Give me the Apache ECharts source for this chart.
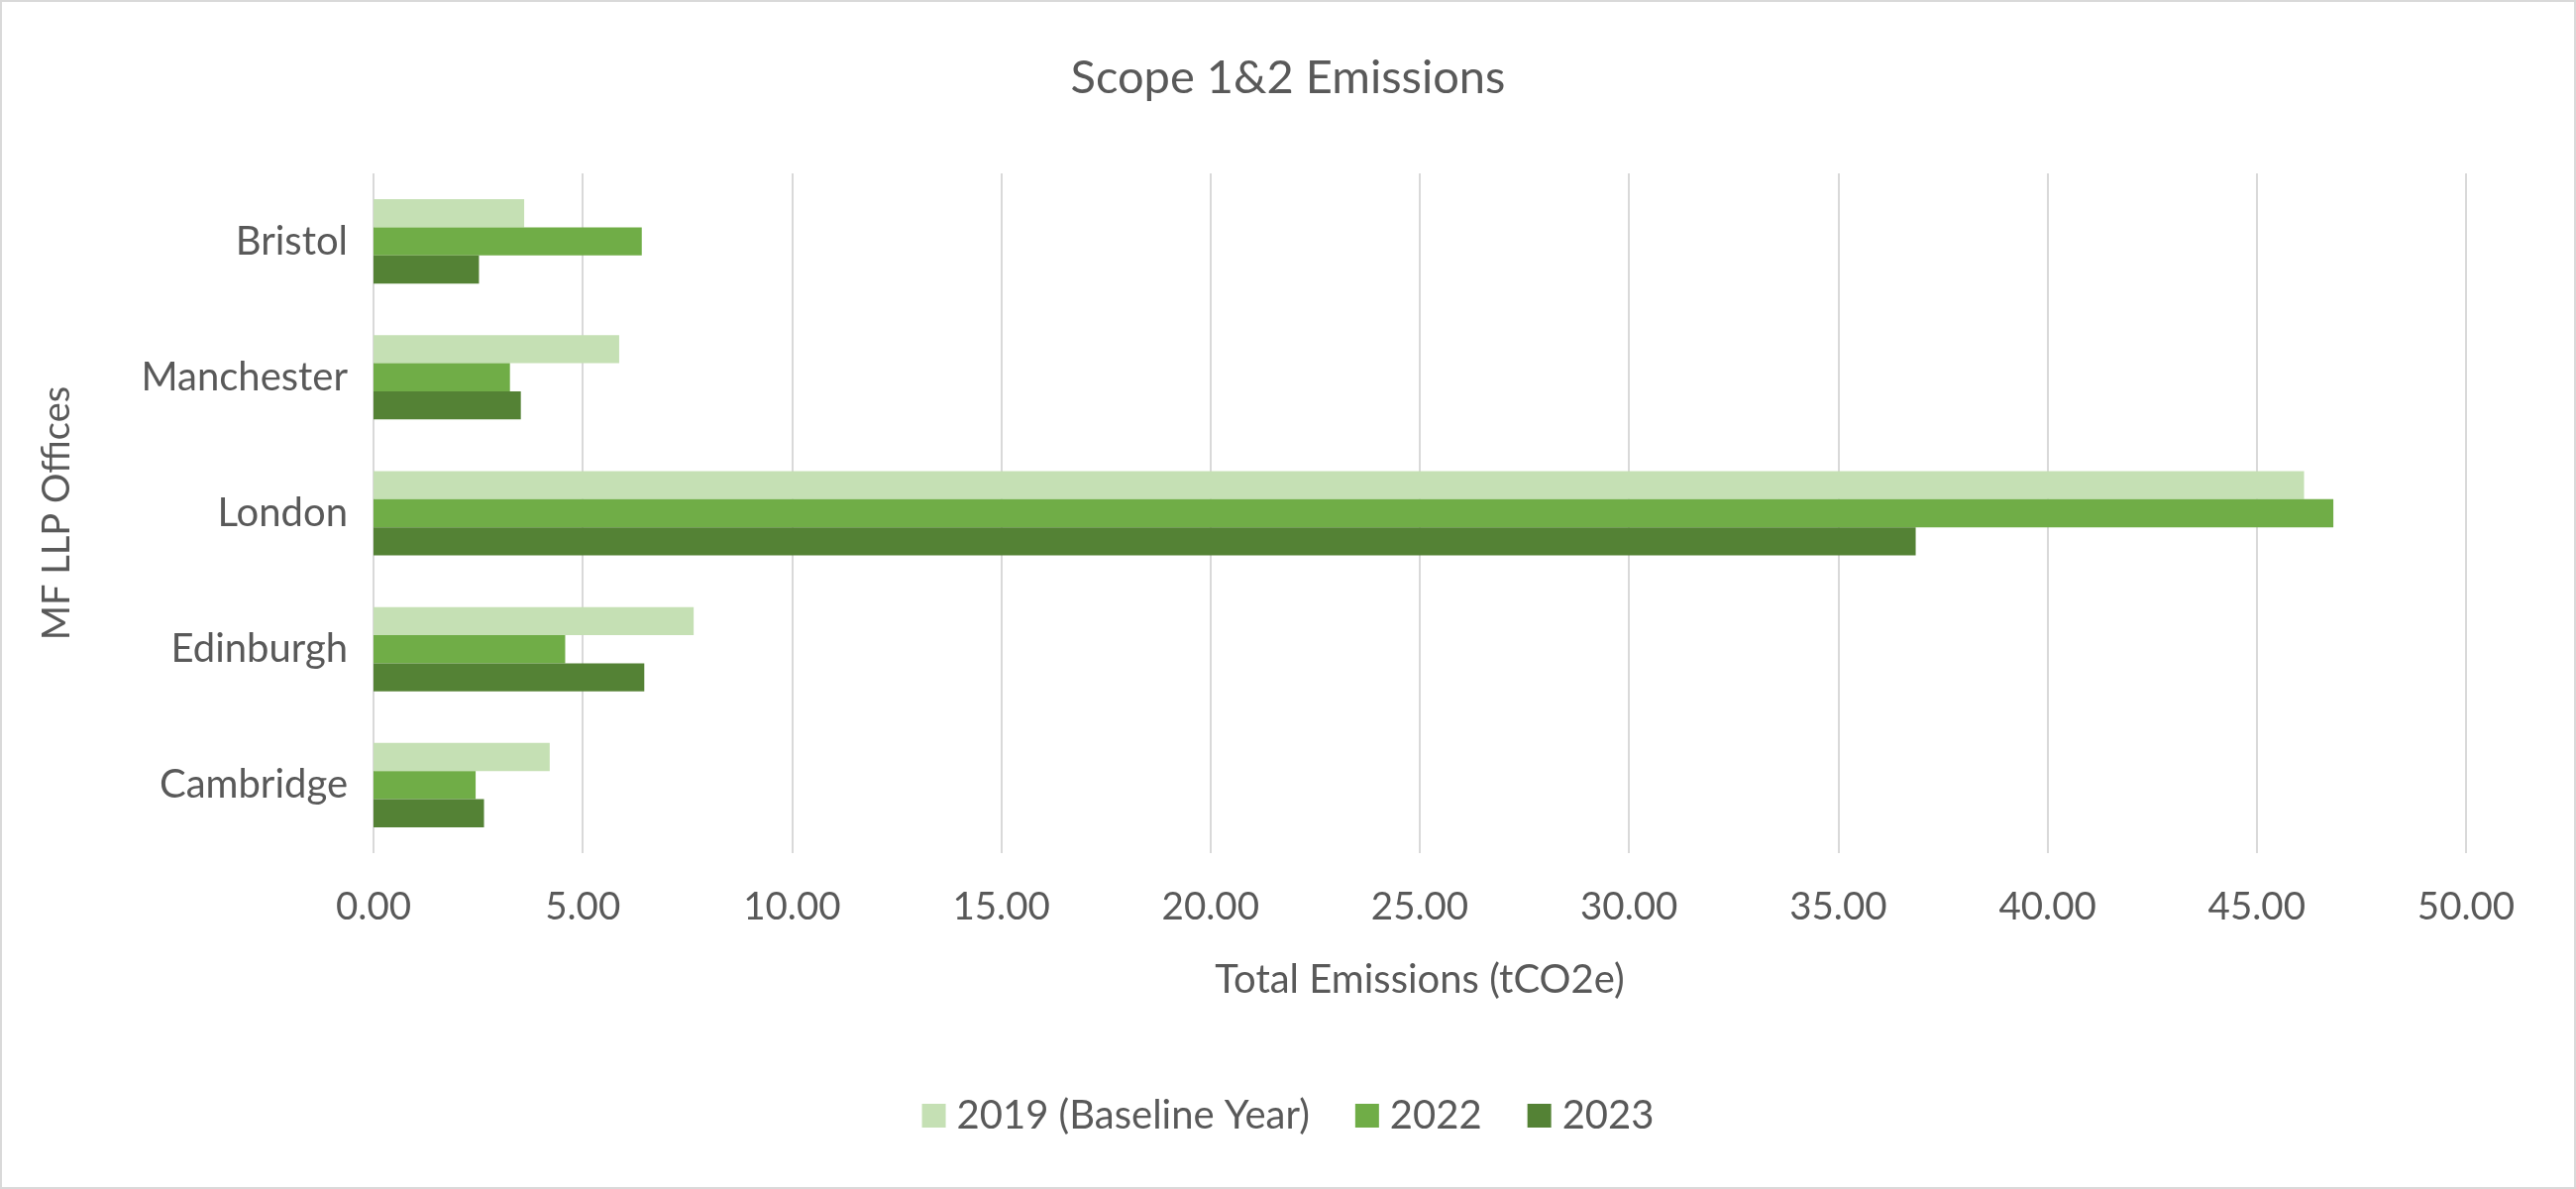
<!DOCTYPE html>
<html>
<head>
<meta charset="utf-8">
<script src="https://cdn.jsdelivr.net/npm/echarts@6/dist/echarts.min.js"></script>
<style>
html,body{margin:0;padding:0;background:#fff;}
#c{width:2600px;height:1200px;}
</style>
</head>
<body>
<div id="c"></div>
<script>
const categories = ['Cambridge', 'Edinburgh', 'London', 'Manchester', 'Bristol'];
const seriesNames = ['2019 (Baseline Year)', '2022', '2023'];
const values2019 = [4.21, 7.65, 46.13, 5.87, 3.60];
const values2022 = [2.44, 4.58, 46.83, 3.26, 6.41];
const values2023 = [2.64, 6.47, 36.85, 3.52, 2.52];
const colors = ['#c5e0b4', '#70ad47', '#548235'];

const FONT = 'Lato';
const TXT = '#595959';

const chart = echarts.init(document.getElementById('c'), null, {renderer: 'canvas'});
const allValues = [values2019, values2022, values2023];

chart.setOption({
  backgroundColor: '#ffffff',
  animation: false,
  color: colors,
  title: {
    text: 'Scope 1&2 Emissions',
    left: 'center',
    top: 50,
    textStyle: {fontFamily: FONT, fontSize: 47, fontWeight: 'normal', color: TXT}
  },
  legend: {
    data: seriesNames,
    left: 'center',
    top: 1101,
    itemWidth: 24,
    itemHeight: 24,
    itemGap: 46,
    icon: 'rect',
    textStyle: {fontFamily: FONT, fontSize: 40, color: TXT, padding: [0, 0, 0, 6]}
  },
  grid: {left: 377, right: 111, top: 175, bottom: 339, containLabel: false},
  xAxis: {
    type: 'value',
    min: 0,
    max: 50,
    interval: 5,
    name: 'Total Emissions (tCO2e)',
    nameLocation: 'middle',
    nameGap: 108,
    nameTextStyle: {fontFamily: FONT, fontSize: 40, color: TXT},
    axisLine: {show: false},
    axisTick: {show: false},
    axisLabel: {
      fontFamily: FONT, fontSize: 38.5, color: TXT, margin: 35,
      formatter: v => v.toFixed(2)
    },
    splitLine: {show: true, lineStyle: {color: '#d9d9d9', width: 2}}
  },
  yAxis: {
    type: 'category',
    data: categories,
    name: 'MF LLP Offices',
    nameLocation: 'middle',
    nameGap: 300,
    nameRotate: 90,
    nameTextStyle: {fontFamily: FONT, fontSize: 38, color: TXT},
    axisLine: {show: false},
    axisTick: {show: false},
    axisLabel: {fontFamily: FONT, fontSize: 40, color: TXT, margin: 26},
    splitLine: {show: false}
  },
  graphic: [{
    type: 'rect',
    shape: {x: 1, y: 1, width: 2598, height: 1198},
    style: {fill: 'none', stroke: '#d9d9d9', lineWidth: 2},
    silent: true
  }],
  series: seriesNames.map((n, i) => ({
    name: n,
    type: 'bar',
    data: allValues[i],
    barGap: '0%',
    barCategoryGap: '38%',
    itemStyle: {color: colors[i]}
  }))
});
</script>
</body>
</html>
